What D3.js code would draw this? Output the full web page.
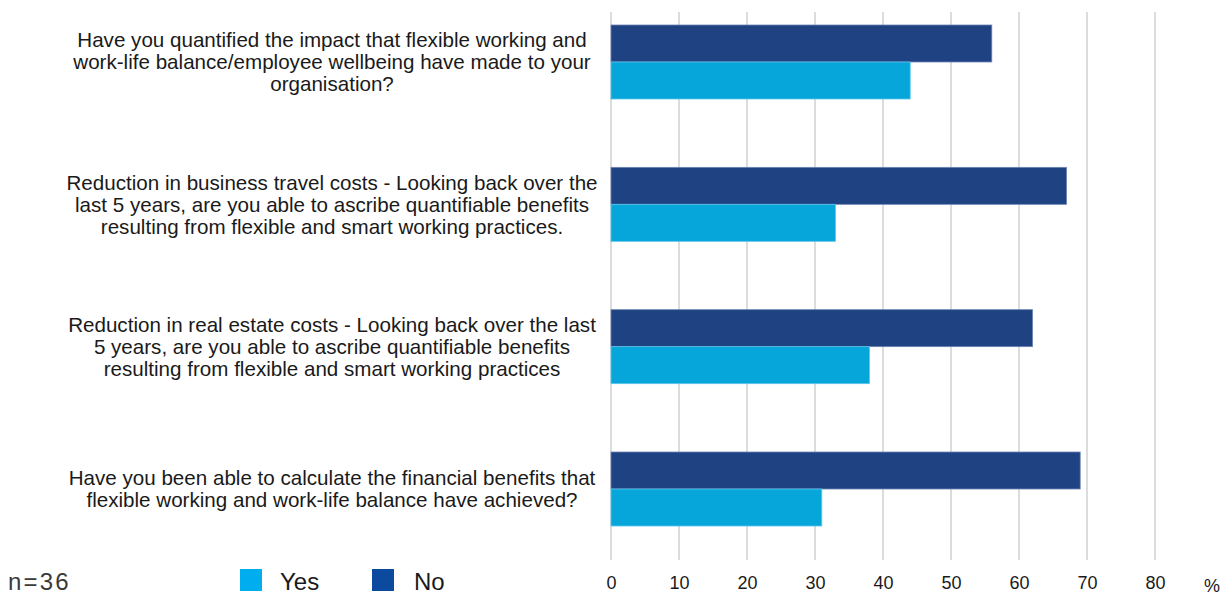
<!DOCTYPE html>
<html>
<head>
<meta charset="utf-8">
<script src="https://cdn.jsdelivr.net/npm/d3@7"></script>
<style>
  html, body { margin: 0; padding: 0; background: #fff; }
  svg { display: block; font-family: "Liberation Sans", Arial, sans-serif; }
</style>
</head>
<body>
<svg id="chart" width="1231" height="596"></svg>
<script>
// Survey questions (top to bottom), each label split into display lines
const questions = [
  ["Have you quantified the impact that flexible working and",
   "work-life balance/employee wellbeing have made to your",
   "organisation?"],
  ["Reduction in business travel costs - Looking back over the",
   "last 5 years, are you able to ascribe quantifiable benefits",
   "resulting from flexible and smart working practices."],
  ["Reduction in real estate costs -  Looking back over the last",
   "5 years, are you able to ascribe quantifiable benefits",
   "resulting from flexible and smart working practices"],
  ["Have you been able to calculate the financial benefits that",
   "flexible working and work-life balance have achieved?"]
];
const seriesNames = ["No", "Yes"];
const noValues = [56, 67, 62, 69];
const yesValues = [44, 33, 38, 31];
const xTicks = [0, 10, 20, 30, 40, 50, 60, 70, 80];
const sampleNote = "n=36";

const colors = { No: "#1f4283", Yes: "#06a6da" };
const legendColors = { Yes: "#00aeef", No: "#0c4a9e" };

const svg = d3.select("#chart");

const x = d3.scaleLinear().domain([0, 80]).range([611, 1155]);
const y = d3.scalePoint().domain(d3.range(questions.length)).range([62, 489]);
const inner = d3.scaleBand().domain(seriesNames).range([-37, 37]).padding(0);

// vertical gridlines
svg.append("g")
  .selectAll("line")
  .data(xTicks)
  .join("line")
  .attr("x1", d => x(d)).attr("x2", d => x(d))
  .attr("y1", 12).attr("y2", 560)
  .attr("stroke", "#dcdcdc")
  .attr("stroke-width", 2);

// bars
const rows = questions.map((q, i) => ({ i, No: noValues[i], Yes: yesValues[i] }));
const groups = svg.append("g").selectAll("g")
  .data(rows)
  .join("g")
  .attr("transform", d => `translate(0,${y(d.i)})`);

groups.selectAll("rect")
  .data(d => seriesNames.map(s => ({ s, v: d[s] })))
  .join("rect")
  .attr("x", x(0))
  .attr("y", d => inner(d.s))
  .attr("width", d => x(d.v) - x(0))
  .attr("height", inner.bandwidth())
  .attr("fill", d => colors[d.s])
  .attr("stroke", d => d.s === "No" ? "#6f86b3" : "#5cc6ea")
  .attr("stroke-width", 0.8);

// category labels
const lineH = 22;
svg.append("g")
  .selectAll("text")
  .data(questions)
  .join("text")
  .attr("text-anchor", "middle")
  .attr("font-size", 20.6)
  .attr("fill", "#1a1a1a")
  .each(function(lines, i) {
    const t = d3.select(this);
    const start = y(i) - (lines.length - 1) * lineH / 2;
    lines.forEach((ln, k) => {
      t.append("tspan")
        .attr("x", 332)
        .attr("y", start + k * lineH)
        .attr("dy", "0.35em")
        .text(ln);
    });
  });

// x axis tick labels
const axis = d3.axisBottom(x).tickValues(xTicks).tickSize(0).tickPadding(0);
const axisG = svg.append("g").attr("transform", "translate(0,576)").call(axis);
axisG.select(".domain").remove();
axisG.selectAll("text")
  .attr("font-size", 18)
  .attr("fill", "#1a1a1a")
  .attr("font-family", "Liberation Sans, Arial, sans-serif");

svg.append("text")
  .attr("x", 1212).attr("y", 592)
  .attr("text-anchor", "middle")
  .attr("font-size", 18)
  .attr("fill", "#1a1a1a")
  .text("%");

// sample size note
svg.append("text")
  .attr("x", 8).attr("y", 590)
  .attr("font-size", 24)
  .attr("letter-spacing", 2.2)
  .attr("fill", "#3a3a3a")
  .text(sampleNote);

// legend
const legendItems = [
  { s: "Yes", x: 240, tx: 280 },
  { s: "No", x: 372, tx: 414 }
];
const lg = svg.append("g").selectAll("g").data(legendItems).join("g");
lg.append("rect")
  .attr("x", d => d.x).attr("y", 569)
  .attr("width", 22).attr("height", 22)
  .attr("fill", d => legendColors[d.s]);
lg.append("text")
  .attr("x", d => d.tx).attr("y", 590)
  .attr("font-size", 24)
  .attr("fill", "#1a1a1a")
  .text(d => d.s);
</script>
</body>
</html>
